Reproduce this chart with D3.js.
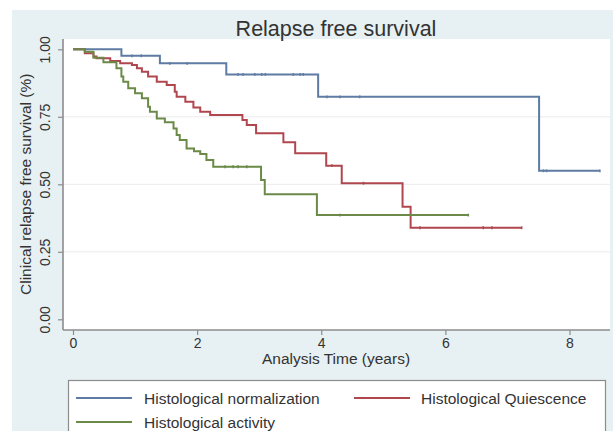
<!DOCTYPE html>
<html>
<head>
<meta charset="utf-8">
<script src="https://cdn.jsdelivr.net/npm/d3@7"></script>
<style>
  html, body { margin: 0; padding: 0; background: #ffffff; }
  svg { display: block; font-family: "Liberation Sans", Arial, Helvetica, sans-serif; }
</style>
</head>
<body>
<svg id="chart" width="613" height="431"></svg>
<script>
// ---------------- data ----------------
const chartTitle = "Relapse free survival";
const xTitle = "Analysis Time (years)";
const yTitle = "Clinical relapse free survival (%)";
const xTicks = [0, 2, 4, 6, 8];
const yTicks = [0, 0.25, 0.5, 0.75, 1];
const yTickLabels = ["0.00", "0.25", "0.50", "0.75", "1.00"];
const yGrid = [0.25, 0.5, 0.75];

const seriesNames = ["Histological normalization", "Histological Quiescence", "Histological activity"];

// Kaplan-Meier step points: time at which survival drops, survival after drop
const normTimes = [0.78, 1.40, 2.47, 3.95, 7.51];
const normSurv  = [0.976, 0.948, 0.907, 0.824, 0.550];
const normEnd   = 8.49;
const normCensor = [0.95, 1.10, 1.56, 1.84, 2.66, 2.74, 2.93, 3.04, 3.10, 3.55, 3.66, 3.71, 4.09, 4.30, 4.62, 7.58, 7.63, 8.49];

const quiesTimes = [0.19, 0.33, 0.38, 0.60, 0.76, 0.95, 1.03, 1.11, 1.21, 1.35, 1.51, 1.64, 1.67, 1.81, 1.94, 2.05, 2.21, 2.73, 2.80, 2.95, 3.39, 3.58, 4.08, 4.33, 5.31, 5.44];
const quiesSurv  = [0.985, 0.973, 0.967, 0.957, 0.948, 0.942, 0.930, 0.917, 0.899, 0.880, 0.868, 0.843, 0.824, 0.806, 0.784, 0.769, 0.757, 0.738, 0.720, 0.689, 0.656, 0.615, 0.569, 0.504, 0.417, 0.339];
const quiesEnd   = 7.23;
const quiesCensor = [4.17, 4.68, 5.59, 6.61, 6.75, 7.23];

const actTimes = [0.19, 0.33, 0.49, 0.70, 0.78, 0.81, 0.89, 1.00, 1.11, 1.21, 1.24, 1.35, 1.48, 1.62, 1.67, 1.72, 1.83, 1.95, 2.05, 2.15, 2.26, 3.03, 3.09, 3.93];
const actSurv  = [0.991, 0.969, 0.952, 0.930, 0.899, 0.880, 0.856, 0.837, 0.819, 0.787, 0.769, 0.744, 0.730, 0.707, 0.683, 0.664, 0.633, 0.622, 0.612, 0.590, 0.565, 0.516, 0.463, 0.386];
const actEnd   = 6.37;
const actCensor = [2.45, 2.58, 2.66, 2.80, 4.30, 6.37];

const seriesColors = ["#5d7ba3", "#b0474f", "#6b8a48"];

// ---------------- build ----------------
function kmPoints(times, surv, end) {
  const pts = [[0, 1]];
  times.forEach((t, i) => pts.push([t, surv[i]]));
  pts.push([end, surv[surv.length - 1]]);
  return pts;
}
function survAt(times, surv, t) {
  let s = 1;
  times.forEach((tt, i) => { if (tt <= t) s = surv[i]; });
  return s;
}
const series = [
  { name: seriesNames[0], color: seriesColors[0], times: normTimes, surv: normSurv, end: normEnd, censor: normCensor },
  { name: seriesNames[1], color: seriesColors[1], times: quiesTimes, surv: quiesSurv, end: quiesEnd, censor: quiesCensor },
  { name: seriesNames[2], color: seriesColors[2], times: actTimes, surv: actSurv, end: actEnd, censor: actCensor }
];

const svg = d3.select("#chart");
const W = 613, H = 431;

// outer background
svg.append("rect").attr("x", 0).attr("y", 0).attr("width", W).attr("height", H).attr("fill", "#ffffff");
svg.append("rect").attr("x", 12).attr("y", 10).attr("width", W - 12).attr("height", H - 10).attr("fill", "#e7f0f2");

const plotL = 63, plotR = 610, plotT = 39, plotB = 330;
svg.append("rect").attr("x", plotL).attr("y", plotT).attr("width", plotR - plotL).attr("height", plotB - plotT).attr("fill", "#ffffff");

const x = d3.scaleLinear().domain([0, 8]).range([73, 569.5]);
const y = d3.scaleLinear().domain([0, 1]).range([319.3, 49.3]);

// gridlines
svg.append("g").selectAll("line").data(yGrid).join("line")
  .attr("x1", plotL).attr("x2", plotR)
  .attr("y1", d => y(d)).attr("y2", d => y(d))
  .attr("stroke", "#ececec").attr("stroke-width", 1);

// title
svg.append("text").attr("x", 336).attr("y", 36).attr("text-anchor", "middle")
  .attr("font-size", 21.5).attr("fill", "#333").text(chartTitle);

// x axis
const xAxis = d3.axisBottom(x).tickValues(xTicks).tickSize(5).tickPadding(3).tickFormat(d3.format("d"));
const gx = svg.append("g").attr("transform", `translate(0,${plotB})`).call(xAxis);
gx.select(".domain").attr("d", `M${plotL},0H${plotR}`).attr("stroke", "#8c8c8c").attr("stroke-width", 1.6);
gx.selectAll(".tick line").attr("stroke", "#8c8c8c").attr("stroke-width", 1.2);
gx.selectAll(".tick text").attr("font-size", 14).attr("fill", "#333")
  .attr("font-family", "'Liberation Sans', Arial, sans-serif");

// y axis
const yAxis = d3.axisLeft(y).tickValues(yTicks).tickSize(5).tickFormat((d, i) => yTickLabels[i]);
const gy = svg.append("g").attr("transform", `translate(${plotL},0)`).call(yAxis);
gy.select(".domain").attr("d", `M0,${plotT}V${plotB}`).attr("stroke", "#8c8c8c").attr("stroke-width", 1.6);
gy.selectAll(".tick line").attr("stroke", "#8c8c8c").attr("stroke-width", 1.2);
gy.selectAll(".tick text")
  .attr("font-size", 14).attr("fill", "#333")
  .attr("font-family", "'Liberation Sans', Arial, sans-serif")
  .attr("x", null).attr("dy", null)
  .attr("text-anchor", "middle")
  .attr("transform", "translate(-13,0) rotate(-90)");

// axis titles
svg.append("text").attr("x", 336).attr("y", 364).attr("text-anchor", "middle")
  .attr("font-size", 15.5).attr("fill", "#333").text(xTitle);
svg.append("text").attr("transform", `translate(31,${(y(0) + y(1)) / 2}) rotate(-90)`)
  .attr("text-anchor", "middle").attr("font-size", 15.5).attr("fill", "#333").text(yTitle);

// curves
const line = d3.line().x(d => x(d[0])).y(d => y(d[1])).curve(d3.curveStepAfter);
const gc = svg.append("g");
series.forEach(s => {
  gc.append("path").datum(kmPoints(s.times, s.surv, s.end))
    .attr("d", line).attr("fill", "none")
    .attr("stroke", s.color).attr("stroke-width", 2);
  gc.append("g").selectAll("line").data(s.censor).join("line")
    .attr("x1", d => x(d)).attr("x2", d => x(d))
    .attr("y1", d => y(survAt(s.times, s.surv, d)) - 1.4)
    .attr("y2", d => y(survAt(s.times, s.surv, d)) + 1.4)
    .attr("stroke", s.color).attr("stroke-width", 1.5);
});

// legend
const lg = svg.append("g");
lg.append("rect").attr("x", 68.5).attr("y", 380.5).attr("width", 537).attr("height", 60)
  .attr("fill", "#ffffff").attr("stroke", "#8c8c8c").attr("stroke-width", 1.2);
const legendPos = [
  { lx: 76, ly: 398, tx: 144 },
  { lx: 354, ly: 398, tx: 421 },
  { lx: 76, ly: 422, tx: 144 }
];
series.forEach((s, i) => {
  const p = legendPos[i];
  lg.append("line").attr("x1", p.lx).attr("x2", p.lx + 56).attr("y1", p.ly).attr("y2", p.ly)
    .attr("stroke", s.color).attr("stroke-width", 1.8);
  lg.append("text").attr("x", p.tx).attr("y", p.ly + 5.5).attr("font-size", 15.5)
    .attr("fill", "#333").text(s.name);
});
</script>
</body>
</html>
